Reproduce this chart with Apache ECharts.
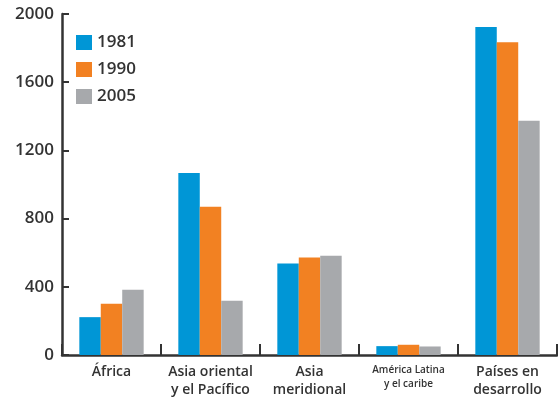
<!DOCTYPE html>
<html><head><meta charset="utf-8">
<script src="https://cdn.jsdelivr.net/npm/echarts@6/dist/echarts.min.js"></script>
<style>html,body{margin:0;padding:0;background:#fff}#c{width:558px;height:399px}</style>
</head><body><div id="c"></div>
<script>
const categories = ['África', 'Asia oriental\ny el Pacífico', 'Asia\nmeridional', 'América Latina\ny el caribe', 'Países en\ndesarrollo'];
const seriesNames = ['1981', '1990', '2005'];
const values1981 = [222, 1068, 537, 52, 1924];
const values1990 = [300, 870, 572, 60, 1835];
const values2005 = [383, 318, 582, 50, 1374];
const yTicks = [0, 400, 800, 1200, 1600, 2000];

const colors = ['#0096D6', '#F28122', '#A7A9AC'];
const textColor = '#333333';
const fontFamily = '"Open Sans", sans-serif';

const chart = echarts.init(document.getElementById('c'));
const catData = categories.map((c, i) => i === 3
  ? { value: c, textStyle: { fontSize: 10, lineHeight: 14 } }
  : c);
const allValues = [values1981, values1990, values2005];
chart.setOption({
  animation: false,
  color: colors,
  grid: { left: 62, right: 1, top: 14, bottom: 42 },
  legend: {
    orient: 'vertical', left: 71, top: 29,
    itemWidth: 16, itemHeight: 15, itemGap: 10,
    icon: 'rect',
    textStyle: { fontSize: 17, fontWeight: 600, color: textColor, fontFamily: fontFamily },
    data: seriesNames
  },
  xAxis: {
    type: 'category', data: catData,
    axisLine: { show: true, lineStyle: { color: textColor, width: 2.5 } },
    axisTick: { show: true, inside: true, alignWithLabel: false, interval: 0, length: 11, lineStyle: { color: textColor, width: 2 } },
    axisLabel: { margin: 8, fontSize: 14, lineHeight: 18, fontWeight: 600, color: textColor, fontFamily: fontFamily, interval: 0 }
  },
  yAxis: {
    type: 'value', min: yTicks[0], max: yTicks[yTicks.length - 1], interval: yTicks[1] - yTicks[0],
    splitLine: { show: false },
    axisLine: { show: true, onZero: false, lineStyle: { color: textColor, width: 2.5 } },
    axisTick: { show: true, inside: true, length: 7, lineStyle: { color: textColor, width: 2 } },
    axisLabel: { margin: 8, fontSize: 17, fontWeight: 600, color: textColor, fontFamily: fontFamily,
      formatter: v => String(v) }
  },
  series: seriesNames.map((n, i) => ({
    name: n, type: 'bar', data: allValues[i],
    barGap: '0%', barCategoryGap: '35%'
  }))
});
</script></body></html>
